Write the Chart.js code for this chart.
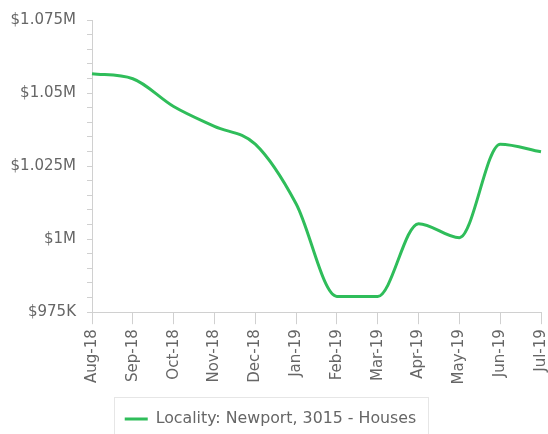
<!DOCTYPE html>
<html>
<head>
<meta charset="utf-8">
<script src="https://cdn.jsdelivr.net/npm/chart.js@4/dist/chart.umd.min.js"></script>
<style>
html,body{margin:0;padding:0;background:#fff;}
#wrap{width:548px;height:434px;}
</style>
</head>
<body>
<div id="wrap"><canvas id="c" width="548" height="434"></canvas></div>
<script>
const categories = ["Aug-18","Sep-18","Oct-18","Nov-18","Dec-18","Jan-19","Feb-19","Mar-19","Apr-19","May-19","Jun-19","Jul-19"];
const seriesLabel = "Locality: Newport, 3015 - Houses";
const seriesValues = [1056600, 1054900, 1045400, 1038600, 1032500, 1012100, 980400, 980400, 1005300, 1000500, 1032500, 1029900];
const yMin = 975000, yMax = 1075000, yStep = 5000, yLabelStep = 25000;

function fmt(v){
  if (v >= 1000000) return '$' + (v/1000000).toString() + 'M';
  return '$' + (v/1000).toString() + 'K';
}

const legendBox = {
  id: 'legendBox',
  afterDraw(chart){
    const l = chart.legend;
    if (!l || !l.legendHitBoxes || !l.legendHitBoxes.length) return;
    const hb = l.legendHitBoxes[0];
    const ctx = chart.ctx;
    ctx.save();
    ctx.strokeStyle = '#e6e6e6';
    ctx.lineWidth = 1;
    const x0 = Math.round(hb.left - 11) + 0.5;
    const w = Math.round(hb.width + 22);
    ctx.strokeRect(x0, 397.5, w, 60);
    ctx.restore();
  }
};

new Chart(document.getElementById('c'), {
  type: 'line',
  data: {
    labels: categories,
    datasets: [{
      label: seriesLabel,
      data: seriesValues,
      borderColor: '#2fbd5a',
      backgroundColor: '#2fbd5a',
      borderWidth: 3,
      pointRadius: 0,
      pointHoverRadius: 0,
      fill: false,
      cubicInterpolationMode: 'monotone'
    }]
  },
  options: {
    responsive: false,
    animation: false,
    layout: { padding: { top: 18, right: 7, left: 0, bottom: -3 } },
    plugins: {
      tooltip: { enabled: false },
      legend: {
        position: 'bottom',
        labels: {
          usePointStyle: true,
          pointStyle: 'line',
          pointStyleWidth: 23,
          color: '#666',
          font: { family: 'DejaVu Sans', size: 15.8 },
          padding: 12
        }
      }
    },
    scales: {
      x: {
        grid: { display: true, drawOnChartArea: false, drawTicks: true, tickLength: 12, color: '#d0d0d0' },
        border: { color: '#d0d0d0' },
        ticks: { color: '#666', padding: 5, font: { family: 'DejaVu Sans', size: 15 }, maxRotation: 90, minRotation: 90, autoSkip: false },
        afterFit: function(s){ s.paddingRight = 0; s.paddingLeft = 0; s.height = 87; }
      },
      y: {
        min: yMin, max: yMax,
        grid: { display: true, drawOnChartArea: false, drawTicks: true, tickLength: 5, color: '#d0d0d0' },
        border: { color: '#d0d0d0' },
        afterFit: function(s){ s.width = 92; },
        ticks: {
          stepSize: yStep,
          autoSkip: false,
          padding: 11,
          color: '#666',
          font: { family: 'DejaVu Sans', size: 15 },
          callback: function(v){ return (v % yLabelStep === 0) ? fmt(v) : ''; }
        }
      }
    }
  },
  plugins: [legendBox]
});
</script>
</body>
</html>
